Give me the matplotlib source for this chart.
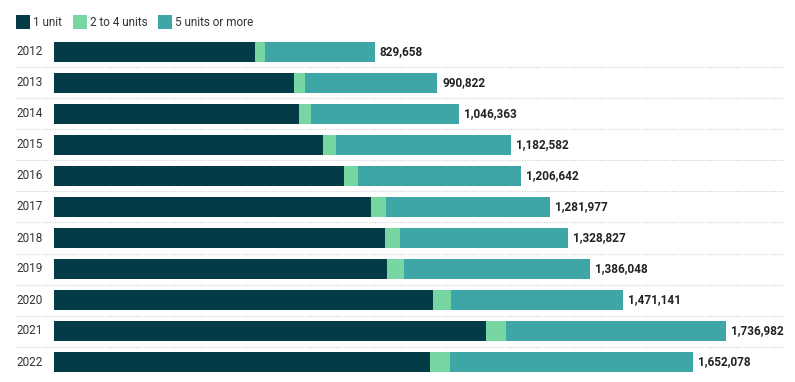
import matplotlib.pyplot as plt
from matplotlib.patches import Rectangle
from matplotlib.transforms import blended_transform_factory

plt.rcParams['font.family'] = ['Roboto', 'DejaVu Sans']

years = ["2012", "2013", "2014", "2015", "2016", "2017",
         "2018", "2019", "2020", "2021", "2022"]
one_unit = [519600, 620400, 633300, 695400, 749700, 819400,
            855600, 860800, 979700, 1116700, 972000]
two_to_four = [25850, 28400, 31000, 33600, 36200, 38800,
               38800, 43900, 46500, 51700, 51700]
five_plus = [284208, 342022, 382063, 453582, 420742, 423777,
             434427, 481348, 444941, 568582, 628378]
totals = [829658, 990822, 1046363, 1182582, 1206642, 1281977,
          1328827, 1386048, 1471141, 1736982, 1652078]

series_names = ["1 unit", "2 to 4 units", "5 units or more"]
colors = ["#033b47", "#77d6a1", "#3ea6a7"]

W, H = 795, 382
fig = plt.figure(figsize=(W / 100, H / 100), dpi=100)

# axes placed in pixel terms: bars start at x=54, rows centred from y=52 to 362
ax_left, ax_right = 54, 785
ax_top, ax_bot = 36.5, 377.5
ax = fig.add_axes([ax_left / W, (H - ax_bot) / H,
                   (ax_right - ax_left) / W, (ax_bot - ax_top) / H])

px_val = 2585  # value per pixel
ax.set_xlim(0, (ax_right - ax_left) * px_val)
ax.set_ylim(len(years) - 0.5, -0.5)

y = list(range(len(years)))
bh = 0.645
left = [0] * len(years)
for vals, col in zip([one_unit, two_to_four, five_plus], colors):
    ax.barh(y, vals, left=left, height=bh, color=col, linewidth=0)
    left = [l + v for l, v in zip(left, vals)]

for yi, tot in zip(y, totals):
    ax.annotate(f"{tot:,}", xy=(tot, yi), xytext=(3.6, 0), textcoords="offset points",
                ha="left", va="center", fontsize=8.5, fontweight="bold", color="#222222")

# year labels and dotted separators
trans = blended_transform_factory(ax.transAxes, ax.transData)
x_lab = (16 - ax_left) / (ax_right - ax_left)
for yi, yr in zip(y, years):
    ax.text(x_lab, yi, yr, transform=trans, ha="left", va="center",
            fontsize=8.5, color="#333333", clip_on=False)
for yi in y[:-1]:
    ax.plot([x_lab, 1], [yi + 0.5, yi + 0.5], transform=trans, color="#cccccc",
            linestyle=(0, (1, 1.5)), linewidth=0.8, clip_on=False)

ax.axis("off")

# legend drawn by hand along the top
leg_x = [16, 73, 158]
for lx, name, col in zip(leg_x, series_names, colors):
    fig.add_artist(Rectangle((lx / W, (H - 29) / H), 14 / W, 14 / H,
                             transform=fig.transFigure, color=col, linewidth=0))
    fig.text((lx + 17) / W, (H - 22) / H, name, ha="left", va="center",
             fontsize=8.5, color="#333333")

fig.savefig("out.png", dpi=100)
